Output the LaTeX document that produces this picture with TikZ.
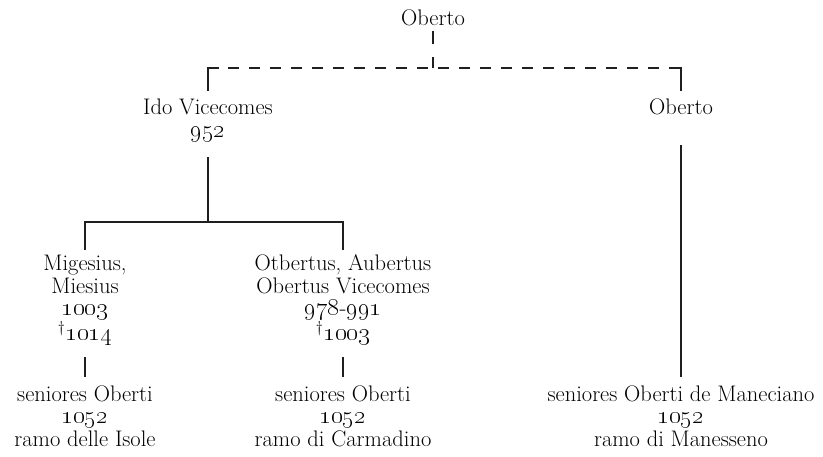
\documentclass[tikz,border=0pt]{standalone}
\newcommand\osn[1]{\scalebox{1.22}{\oldstylenums{#1}}}
\begin{document}
\begin{tikzpicture}[x=1pt,y=-1pt,
  lbl/.style={align=center, anchor=base, inner sep=0pt, text=black,
              font=\fontsize{22.5}{22.5}\selectfont},
  ln/.style={line width=2.8pt, draw=black!88},
  dsh/.style={ln, dash pattern=on 11pt off 10pt, dash phase=16pt},
  dshtop/.style={ln, dash pattern=on 13pt off 13pt}]
\useasboundingbox (0,0) rectangle (823,456);
% base anchor = baseline of the last line
\node[lbl] (root) at (433,25) {Oberto};
\node[lbl] (ido) at (208,137) {Ido Vicecomes\\\osn{952}};
\node[lbl] (ob) at (681,114) {Oberto};
\node[lbl] (mig) at (85,340.5) {Migesius,\\Miesius\\\osn{1003}\\\textsuperscript{\dag}\osn{1014}};
\node[lbl] (otb) at (343,340.5) {Otbertus, Aubertus\\Obertus Vicecomes\\\osn{978}-\osn{991}\\\textsuperscript{\dag}\osn{1003}};
\node[lbl] (sa) at (85,446) {seniores Oberti\\\osn{1052}\\ramo delle Isole};
\node[lbl] (sb) at (343,446) {seniores Oberti\\\osn{1052}\\ramo di Carmadino};
\node[lbl] (sc) at (681,446) {seniores Oberti de Maneciano\\\osn{1052}\\ramo di Manesseno};
% junction points
\coordinate (jc) at (root |- 0,68);
\coordinate (jl) at (ido |- 0,68);
\coordinate (jr) at (ob |- 0,68);
% dashed connectors
\draw[dshtop] (root |- 0,31) -- (jc);
\draw[dsh] (jc) -- (jl);
\draw[dsh] (jc) -- (jr);
\draw[ln] (ido |- 0,91) -- (jl) -- ++(11,0);
\draw[ln] (ob |- 0,91) -- (jr) -- ++(-11,0);
% solid connectors
\draw[ln] (ido |- 0,157) -- (ido |- 0,222);
\draw[ln] (mig |- 0,250) -- (mig |- 0,222) -- (otb |- 0,222) -- (otb |- 0,250);
\draw[ln] (mig |- 0,357) -- (sa |- 0,377);
\draw[ln] (otb |- 0,357) -- (sb |- 0,377);
\draw[ln] (ob |- 0,145) -- (sc |- 0,377);
\end{tikzpicture}
\end{document}
